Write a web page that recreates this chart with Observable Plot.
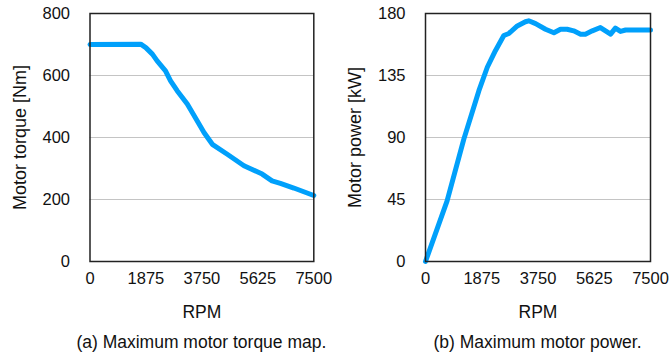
<!DOCTYPE html>
<html><head><meta charset="utf-8">
<script src="https://cdn.jsdelivr.net/npm/d3@7"></script>
<script src="https://cdn.jsdelivr.net/npm/@observablehq/plot@0.6"></script>
<style>
body{margin:0;background:#fff;font-family:"Liberation Sans",Arial,Helvetica,sans-serif;}
#wrap{display:flex;width:670px;}
.panel{display:flex;flex-direction:column;}
.cap{font-size:17.5px;line-height:25px;text-align:center;color:#111;white-space:nowrap;}
</style></head><body><div id="wrap"></div>
<script>
const xTicks = [0, 1875, 3750, 5625, 7500];
const torqueTicks = [0, 200, 400, 600, 800];
const powerTicks = [0, 45, 90, 135, 180];
const torqueRpm = [0, 1700, 1870, 2090, 2250, 2530, 2700, 2920, 3260, 3590, 3820, 4100, 4600, 5160, 5770, 6100, 6380, 6830, 7500];
const torqueNm  = [700, 701, 690, 669, 647, 615, 583, 551, 508, 454, 416, 378, 346, 309, 282, 260, 252, 237, 213];
const powerRpm = [0, 720, 1280, 1780, 2060, 2330, 2610, 2780, 3060, 3330, 3440, 3670, 4000, 4280, 4500, 4720, 4940, 5170, 5330, 5560, 5830, 6170, 6330, 6500, 6670, 7500];
const powerKw  = [0, 44, 89, 124, 141, 153, 164, 165.5, 171, 174, 174.7, 172.7, 168.6, 166, 168.6, 168.6, 167.4, 165, 165, 167.4, 169.8, 165, 169.4, 167, 168, 168];

const FONT = '"Liberation Sans", Arial, Helvetica, sans-serif';

function panel(xs, ys, yTicks, yLabel, caption, width, ml, mr) {
  const data = xs.map((x, i) => ({x, y: ys[i]}));
  const plot = Plot.plot({
    width, height: 330,
    marginLeft: ml, marginRight: mr, marginTop: 13, marginBottom: 69,
    style: {fontFamily: FONT, fontSize: "16.5px", color: "#111", background: "white", overflow: "visible"},
    x: {domain: [0, 7500]},
    y: {domain: [yTicks[0], yTicks[yTicks.length - 1]]},
    marks: [
      Plot.gridY(yTicks.slice(1, -1), {stroke: "#c4c4c4", strokeOpacity: 1, strokeWidth: 1}),
      Plot.axisX(xTicks, {tickSize: 0, tickPadding: 11, tickFormat: d => String(d), label: null}),
      Plot.axisY(yTicks, {tickSize: 0, tickPadding: 20, tickFormat: d => String(d), label: null}),
      Plot.text(["RPM"], {frameAnchor: "bottom", dy: 56, fontSize: 17.5, lineAnchor: "bottom", fill: "#111"}),
      Plot.text([yLabel], {frameAnchor: "left", dx: -70, rotate: -90, textAnchor: "middle", fontSize: 18, fill: "#111"}),
      Plot.line(data, {x: "x", y: "y", stroke: "#00a0fb", strokeWidth: 5, strokeLinejoin: "round"}),
      Plot.frame({stroke: "#222", strokeWidth: 1.5})
    ]
  });
  const div = document.createElement("div");
  div.className = "panel";
  div.style.width = width + "px";
  div.appendChild(plot);
  const cap = document.createElement("div");
  cap.className = "cap";
  const extra = 60;
  cap.style.marginLeft = (ml - extra) + "px";
  cap.style.width = (width - ml - mr + 2 * extra) + "px";
  cap.textContent = caption;
  div.appendChild(cap);
  document.getElementById("wrap").appendChild(div);
}

panel(torqueRpm, torqueNm, torqueTicks, "Motor torque [Nm]", "(a) Maximum motor torque map.", 335, 89.5, 21.7);
panel(powerRpm, powerKw, powerTicks, "Motor power [kW]", "(b) Maximum motor power.", 335, 90, 20);
</script></body></html>
